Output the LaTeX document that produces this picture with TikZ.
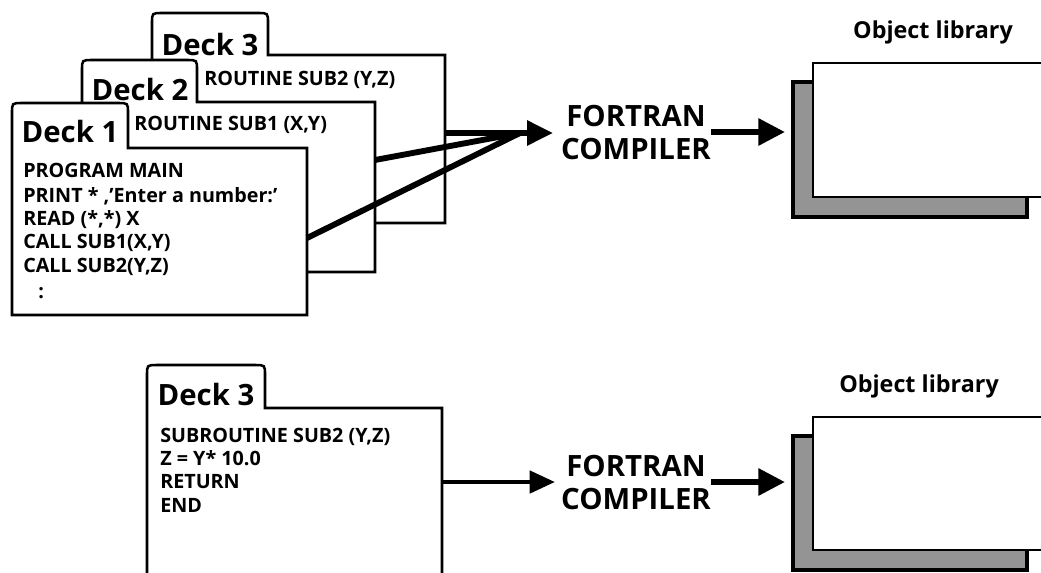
\documentclass[tikz,border=0pt]{standalone}
\usepackage{fontspec}
\setmainfont{Open Sans}
\usetikzlibrary{arrows.meta}
\begin{document}
\begin{tikzpicture}[x=0.75pt,y=-0.75pt,
  deckline/.style={draw=black,line width=1.9pt,fill=white,line join=miter},
  deckname/.style={font=\fontsize{22}{24}\selectfont\bfseries,inner sep=0pt,anchor=base},
  code/.style={font=\fontsize{14.8}{17}\selectfont\bfseries,inner sep=0pt,anchor=base west},
  comp/.style={font=\fontsize{22}{24.75}\selectfont\bfseries,inner sep=0pt,align=center},
  libtitle/.style={font=\fontsize{17.5}{20}\selectfont\bfseries,inner sep=0pt,anchor=base},
  libshadow/.style={draw=black,line width=3pt,fill=black!42},
  libfront/.style={draw=black,line width=2pt,fill=white},
  feed/.style={line width=4.4pt,line cap=butt},
  feedtip/.style={feed,-{Triangle[length=19.5pt,width=18pt]}},
  outarrow/.style={line width=4.5pt,-{Triangle[length=20pt,width=19.5pt]}},
  inarrow/.style={line width=3.5pt,-{Triangle[length=19pt,width=16.5pt]}}]
\useasboundingbox (0,0) rectangle (1041,572);
\clip (0,0) rectangle (1041,572);

% ---------- upper panel: three source decks ----------
\draw[deckline] (152,223) -- (152,23) .. controls (152,13) .. (162,13) -- (258,13)
  .. controls (268,13) .. (268,23) -- (268,55) -- (445,55) -- (445,223) -- cycle;
\node[deckname] (d3name) at (210,55) {Deck 3};
\node[code] (d3l1) at (204,85) {ROUTINE SUB2 (Y,Z)};

\draw[deckline] (82,272) -- (82,70) .. controls (82,60) .. (92,60) -- (187,60)
  .. controls (197,60) .. (197,70) -- (197,102) -- (375,102) -- (375,272) -- cycle;
\node[deckname] (d2name) at (140,100) {Deck 2};
\node[code] (d2l1) at (134,130) {ROUTINE SUB1 (X,Y)};

\draw[deckline] (12,315) -- (12,113) .. controls (12,103) .. (22,103) -- (118,103)
  .. controls (128,103) .. (128,113) -- (128,148) -- (307,148) -- (307,315) -- cycle;
\node[deckname] (d1name) at (70,142) {Deck 1};
\node[code] (d1l1) at (23,177) {PROGRAM MAIN};
\node[code] (d1l2) at (23,202) {PRINT * ,'Enter a number:'};
\node[code] (d1l3) at (23,225) {READ (*,*) X};
\node[code] (d1l4) at (23,248) {CALL SUB1(X,Y)};
\node[code] (d1l5) at (23,272) {CALL SUB2(Y,Z)};
\node[code] (d1l6) at (38,298) {:};

% compiler and object library
\node[comp] (comp1) at (636,132.5) {FORTRAN\\COMPILER};
\node[libtitle] (lib1t) at (933,38) {Object library};
\draw[libshadow] (793,82) rectangle (1027,217);
\draw[libfront] (813,63) rectangle (1060,197);

% connectors
\coordinate (d3out) at (445,133);
\coordinate (d2out) at (375,160);
\coordinate (d1out) at (307,238);
\coordinate (hub) at (520,133);
\coordinate (in1) at (553,133);
\coordinate (lib1) at (785,132);
\draw[feed] (d2out) -- (hub);
\draw[feed] (d1out) -- (hub);
\draw[feedtip] (d3out) -- (in1);
\draw[outarrow] (comp1.east |- lib1) -- (lib1);

% ---------- lower panel: a single deck ----------
\draw[deckline] (147,600) -- (147,375) .. controls (147,365) .. (157,365) -- (255,365)
  .. controls (265,365) .. (265,375) -- (265,408) -- (442,408) -- (442,600) -- cycle;
\node[deckname] (d4name) at (206,405) {Deck 3};
\node[code] (d4l1) at (160,442) {SUBROUTINE SUB2 (Y,Z)};
\node[code] (d4l2) at (160,465) {Z = Y* 10.0};
\node[code] (d4l3) at (160,488) {RETURN};
\node[code] (d4l4) at (160,512) {END};

\node[comp] (comp2) at (636,482.5) {FORTRAN\\COMPILER};
\node[libtitle] (lib2t) at (919,392) {Object library};
\draw[libshadow] (793,436) rectangle (1027,570);
\draw[libfront] (813,417) rectangle (1060,550);

\coordinate (d4out) at (442,482);
\coordinate (in2) at (555,482);
\coordinate (lib2) at (785,482);
\draw[inarrow] (d4out) -- (in2);
\draw[outarrow] (comp2.east |- lib2) -- (lib2);
\end{tikzpicture}
\end{document}
